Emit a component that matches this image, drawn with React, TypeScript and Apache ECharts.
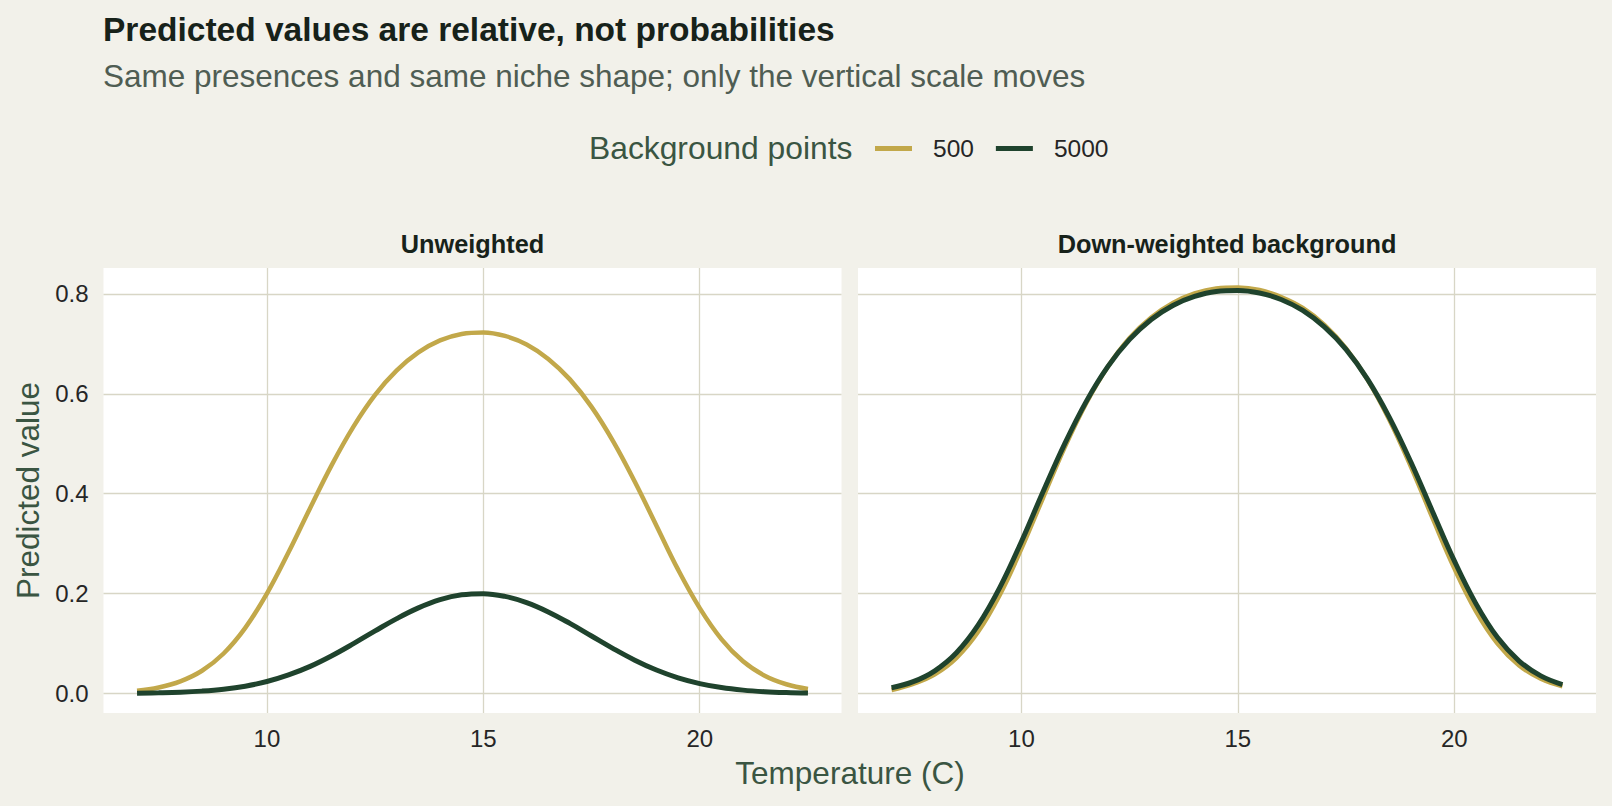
import React, { useEffect, useRef } from "react";
import * as echarts from "echarts";

const temperature = [7, 7.5, 8, 8.5, 9, 9.5, 10, 10.5, 11, 11.5, 12, 12.5, 13, 13.5, 14, 14.5, 15, 15.5, 16, 16.5, 17, 17.5, 18, 18.5, 19, 19.5, 20, 20.5, 21, 21.5, 22, 22.5];

const unweighted500 = [0.0058, 0.0122, 0.0244, 0.0456, 0.0801, 0.1314, 0.2, 0.2827, 0.3715, 0.4579, 0.5345, 0.598, 0.647, 0.683, 0.707, 0.72, 0.723, 0.716, 0.699, 0.67, 0.629, 0.574, 0.505, 0.424, 0.336, 0.248, 0.171, 0.109, 0.0645, 0.0357, 0.0186, 0.0092];
const unweighted5000 = [0.0006, 0.0013, 0.0025, 0.0048, 0.0086, 0.0147, 0.024, 0.0372, 0.0544, 0.0757, 0.0999, 0.1254, 0.15, 0.1715, 0.188, 0.1977, 0.2, 0.1945, 0.182, 0.1634, 0.1404, 0.1152, 0.09, 0.0668, 0.047, 0.0314, 0.0199, 0.0119, 0.0068, 0.0037, 0.0019, 0.0009];
const downweighted500 = [0.007, 0.0194, 0.0384, 0.0714, 0.1236, 0.1975, 0.29, 0.392, 0.493, 0.582, 0.655, 0.712, 0.753, 0.782, 0.801, 0.811, 0.813, 0.808, 0.794, 0.772, 0.738, 0.691, 0.628, 0.548, 0.454, 0.351, 0.251, 0.165, 0.1, 0.0562, 0.0295, 0.0145];
const downweighted5000 = [0.0117, 0.0237, 0.0455, 0.0816, 0.1368, 0.212, 0.304, 0.404, 0.5, 0.585, 0.655, 0.709, 0.749, 0.777, 0.795, 0.805, 0.807, 0.802, 0.789, 0.767, 0.734, 0.689, 0.629, 0.553, 0.463, 0.364, 0.266, 0.18, 0.112, 0.0651, 0.0353, 0.018];

const xTicks = [10, 15, 20];
const yTicks = [0, 0.2, 0.4, 0.6, 0.8];
const panelTitles = ["Unweighted", "Down-weighted background"];
const seriesNames = ["500", "5000"];

const titleText = "Predicted values are relative, not probabilities";
const subtitleText = "Same presences and same niche shape; only the vertical scale moves";
const legendTitle = "Background points";
const xTitle = "Temperature (C)";
const yTitle = "Predicted value";

const BG = "#F2F1EA";
const GOLD = "#C2A84A";
const DARK = "#1F432D";
const GRID = "#D8D6C6";
const FONT = "'Liberation Sans', Arial, Helvetica, sans-serif";

const pairs = (ys: number[]) => temperature.map((x, i) => [x, ys[i]]);

export default function App() {
  const ref = useRef<HTMLDivElement>(null);
  useEffect(() => {
    document.body.style.margin = "0";
    const chart = echarts.init(ref.current!, null, { renderer: "svg", width: 1612, height: 806 });
    const gridLefts = [103.5, 858];
    const gridTop = 268;
    const gridW = 738;
    const gridH = 445;

    const xAxes = gridLefts.map((_, i) => ({
      type: "value",
      gridIndex: i,
      min: 6.225,
      max: 23.275,
      axisLine: { show: false },
      axisTick: { show: false, customValues: xTicks },
      axisLabel: { customValues: xTicks, fontSize: 24, color: "#262626", margin: 13.5, fontFamily: FONT },
      splitLine: { show: true, lineStyle: { color: GRID, width: 1.3 } },
    }));
    const yAxes = gridLefts.map((_, i) => ({
      type: "value",
      gridIndex: i,
      min: -0.039,
      max: 0.852,
      axisLine: { show: false },
      axisTick: { show: false, customValues: yTicks },
      axisLabel: {
        show: i === 0,
        customValues: yTicks,
        fontSize: 24,
        color: "#262626",
        margin: 15,
        fontFamily: FONT,
        formatter: (v: number) => v.toFixed(1),
      },
      splitLine: { show: true, lineStyle: { color: GRID, width: 1.3 } },
    }));

    const mk = (name: string, data: number[], idx: number, color: string, width: number, z: number) => ({
      type: "line",
      name,
      xAxisIndex: idx,
      yAxisIndex: idx,
      data: pairs(data),
      smooth: 0.4,
      showSymbol: false,
      symbol: "none",
      lineStyle: { color, width, cap: "butt" },
      itemStyle: { color },
      z,
    });

    chart.setOption({
      animation: false,
      backgroundColor: BG,
      textStyle: { fontFamily: FONT },
      grid: gridLefts.map((l) => ({
        left: l,
        top: gridTop,
        width: gridW,
        height: gridH,
        show: true,
        backgroundColor: "#FFFFFF",
        borderWidth: 0,
        containLabel: false,
      })),
      xAxis: xAxes,
      yAxis: yAxes,
      legend: {
        data: seriesNames,
        left: 875,
        top: 136,
        icon: "rect",
        itemWidth: 37,
        itemHeight: 5,
        itemGap: 22,
        padding: 0,
        textStyle: { fontSize: 24.5, color: "#262626", fontFamily: FONT, padding: [0, 0, 0, 16] },
      },
      series: [
        mk(seriesNames[0], unweighted500, 0, GOLD, 4.5, 2),
        mk(seriesNames[1], unweighted5000, 0, DARK, 5, 3),
        mk(seriesNames[0], downweighted500, 1, GOLD, 4.5, 2),
        mk(seriesNames[1], downweighted5000, 1, DARK, 5, 3),
      ],
      graphic: [
        { type: "text", x: 103, y: 29, style: { text: titleText, font: `bold 33.5px ${FONT}`, fill: "#17221A", textAlign: "left", textVerticalAlign: "middle" } },
        { type: "text", x: 103, y: 76, style: { text: subtitleText, font: `31.5px ${FONT}`, fill: "#4F5D53", textAlign: "left", textVerticalAlign: "middle" } },
        { type: "text", x: 589, y: 148, style: { text: legendTitle, font: `31.8px ${FONT}`, fill: "#3A5542", textAlign: "left", textVerticalAlign: "middle" } },
        { type: "text", x: gridLefts[0] + gridW / 2, y: 244, style: { text: panelTitles[0], font: `bold 25.3px ${FONT}`, fill: "#17221A", textAlign: "center", textVerticalAlign: "middle" } },
        { type: "text", x: gridLefts[1] + gridW / 2, y: 244, style: { text: panelTitles[1], font: `bold 25.3px ${FONT}`, fill: "#17221A", textAlign: "center", textVerticalAlign: "middle" } },
        { type: "text", x: 850, y: 773, style: { text: xTitle, font: `31.5px ${FONT}`, fill: "#3A5542", textAlign: "center", textVerticalAlign: "middle" } },
        { type: "text", x: 28, y: 490.5, rotation: Math.PI / 2, style: { text: yTitle, font: `31.5px ${FONT}`, fill: "#3A5542", textAlign: "center", textVerticalAlign: "middle" } },
      ],
    });
    return () => chart.dispose();
  }, []);
  return <div ref={ref} style={{ width: 1612, height: 806 }} />;
}
